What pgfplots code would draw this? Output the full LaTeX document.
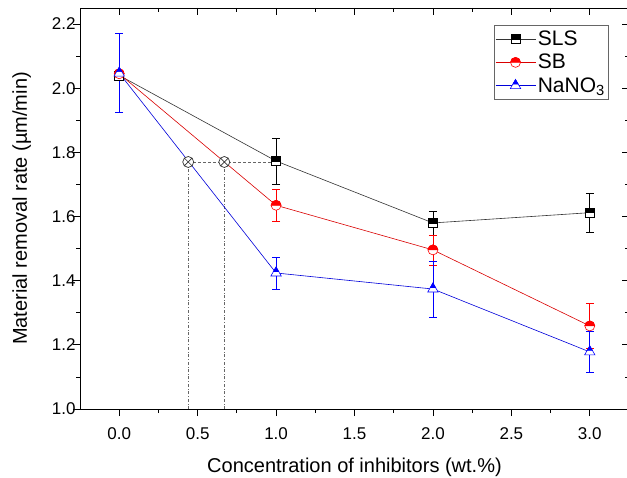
\documentclass[border=0pt]{standalone}
\usepackage{fontspec}
\setmainfont{Liberation Sans}
\usepackage{pgfplots}
\usepackage{pgfplotstable}
\pgfplotsset{compat=1.18}
\usetikzlibrary{plotmarks}

% half filled marks, upper half coloured, lower half white
\pgfdeclareplotmark{hsq}{%
  \pgfsetfillcolor{white}%
  \pgfpathrectangle{\pgfpoint{-\pgfplotmarksize}{-\pgfplotmarksize}}{\pgfpoint{2\pgfplotmarksize}{2\pgfplotmarksize}}%
  \pgfusepathqfillstroke
  \pgfsetfillcolor{black}%
  \pgfpathrectangle{\pgfpoint{-\pgfplotmarksize}{0pt}}{\pgfpoint{2\pgfplotmarksize}{\pgfplotmarksize}}%
  \pgfusepathqfillstroke}
\pgfdeclareplotmark{hci}{%
  \pgfsetfillcolor{white}%
  \pgfpathcircle{\pgfpointorigin}{\pgfplotmarksize}%
  \pgfusepathqfillstroke
  \pgfsetfillcolor{red}%
  \pgfpathmoveto{\pgfpoint{\pgfplotmarksize}{0pt}}%
  \pgfpatharc{0}{180}{\pgfplotmarksize}%
  \pgfpathclose
  \pgfusepathqfillstroke}
\pgfdeclareplotmark{htr}{%
  \pgfsetfillcolor{white}%
  \pgfpathmoveto{\pgfpoint{0pt}{\pgfplotmarksize}}%
  \pgfpathlineto{\pgfpoint{-0.866\pgfplotmarksize}{-0.5\pgfplotmarksize}}%
  \pgfpathlineto{\pgfpoint{0.866\pgfplotmarksize}{-0.5\pgfplotmarksize}}%
  \pgfpathclose
  \pgfusepathqfillstroke
  \pgfsetfillcolor{blue}%
  \pgfpathmoveto{\pgfpoint{0pt}{\pgfplotmarksize}}%
  \pgfpathlineto{\pgfpoint{-0.433\pgfplotmarksize}{0.25\pgfplotmarksize}}%
  \pgfpathlineto{\pgfpoint{0.433\pgfplotmarksize}{0.25\pgfplotmarksize}}%
  \pgfpathclose
  \pgfusepathqfillstroke}

\pgfplotstableread{
x y e
0 2.040 0.000
1 1.773 0.072
2 1.580 0.037
3 1.612 0.060
}\sls
\pgfplotstableread{
x y e
0 2.045 0.000
1 1.635 0.050
2 1.496 0.047
3 1.259 0.070
}\sb
\pgfplotstableread{
x y e
0 2.047 0.123
1 1.424 0.050
2 1.374 0.087
3 1.178 0.063
}\nano

\begin{document}
\begin{tikzpicture}
\pgfplotsset{
  frame/.style={
    scale only axis,
    width=549pt, height=401pt,
    xmin=-0.25, xmax=3.25,
    ymin=1.0, ymax=2.25,
    xtick={0,0.5,...,3.0},
    ytick={1.0,1.2,...,2.2},
    minor x tick num=1,
    minor y tick num=1,
    major tick length=7pt,
    minor tick length=4pt,
    axis line style={-, line width=0.8pt},
    every tick/.style={black, line width=0.8pt},
  }
}

% top and right edges, ticks pointing in
\begin{axis}[frame,
    axis x line*=top, axis y line*=right,
    tick align=inside,
    xticklabels={}, yticklabels={},
]
\end{axis}

\begin{axis}[frame, name=main,
    axis x line*=bottom, axis y line*=left,
    tick align=outside,
    /pgf/number format/assume math mode=true,
    /pgf/number format/.cd, fixed, fixed zerofill, precision=1, /pgfplots/.cd,
    tick label style={font=\fontsize{17}{20}\selectfont},
    yticklabel style={xshift=6pt},
    xticklabel style={yshift=-8pt},
    label style={font=\fontsize{20}{24}\selectfont},
    xlabel={Concentration of inhibitors (wt.\%)},
    ylabel={Material removal rate (µm/min)},
    xlabel style={yshift=-12pt},
    ylabel style={yshift=14pt},
    legend style={at={(0.962,0.958)}, anchor=north east,
      draw=black!60, line width=0.6pt, font=\fontsize{21}{25}\selectfont,
      inner xsep=1pt, inner ysep=4pt, row sep=3pt,
      cells={anchor=west}},
    legend image code/.code={%
      \draw[mark repeat=2, mark phase=2]
        plot coordinates {(0pt,0pt) (20pt,0pt) (40pt,0pt)};},
]
% guide lines to the crossing points
\addplot[black!60, densely dashed, line width=0.6pt, forget plot]
  coordinates {(0.44,1.77) (1.0,1.77)};
\addplot[black!60, dash dot, line width=0.6pt, forget plot]
  coordinates {(0.44,1.0) (0.44,1.77)};
\addplot[black!60, dash dot, line width=0.6pt, forget plot]
  coordinates {(0.67,1.0) (0.67,1.77)};

\addplot[black!80, line width=0.6pt, mark=hsq, mark size=4.5pt,
  mark options={solid, draw=black, line width=0.6pt},
  error bars/.cd, y dir=both, y explicit,
  error bar style={black, line width=0.6pt},
  error mark options={rotate=90, mark size=4pt, black, line width=0.6pt}]
  table[x=x, y=y, y error=e] {\sls};
\addlegendentry{SLS}

\addplot[red!85!black, line width=0.6pt, mark=hci, mark size=5pt,
  mark options={solid, draw=red, line width=0.6pt},
  error bars/.cd, y dir=both, y explicit,
  error bar style={red, line width=0.6pt},
  error mark options={rotate=90, mark size=4pt, red, line width=0.6pt}]
  table[x=x, y=y, y error=e] {\sb};
\addlegendentry{SB}

\addplot[blue!85!black, line width=0.6pt, mark=htr, mark size=6pt,
  mark options={solid, draw=blue, line width=0.6pt},
  error bars/.cd, y dir=both, y explicit,
  error bar style={blue, line width=0.6pt},
  error mark options={rotate=90, mark size=4pt, blue, line width=0.6pt}]
  table[x=x, y=y, y error=e] {\nano};
\addlegendentry{NaNO\textsubscript{3}}

\addplot[only marks, mark=otimes*, mark size=5.5pt,
  mark options={fill=white, draw=black!80, line width=0.7pt}, forget plot]
  coordinates {(0.44,1.77) (0.67,1.77)};
\end{axis}
% page = 627 x 477 with the axis box where the reference has it
\pgfresetboundingbox
\useasboundingbox ([xshift=-80pt, yshift=-68pt]main.south west)
  rectangle ([xshift=-2pt, yshift=8pt]main.north east);
\end{tikzpicture}
\end{document}
